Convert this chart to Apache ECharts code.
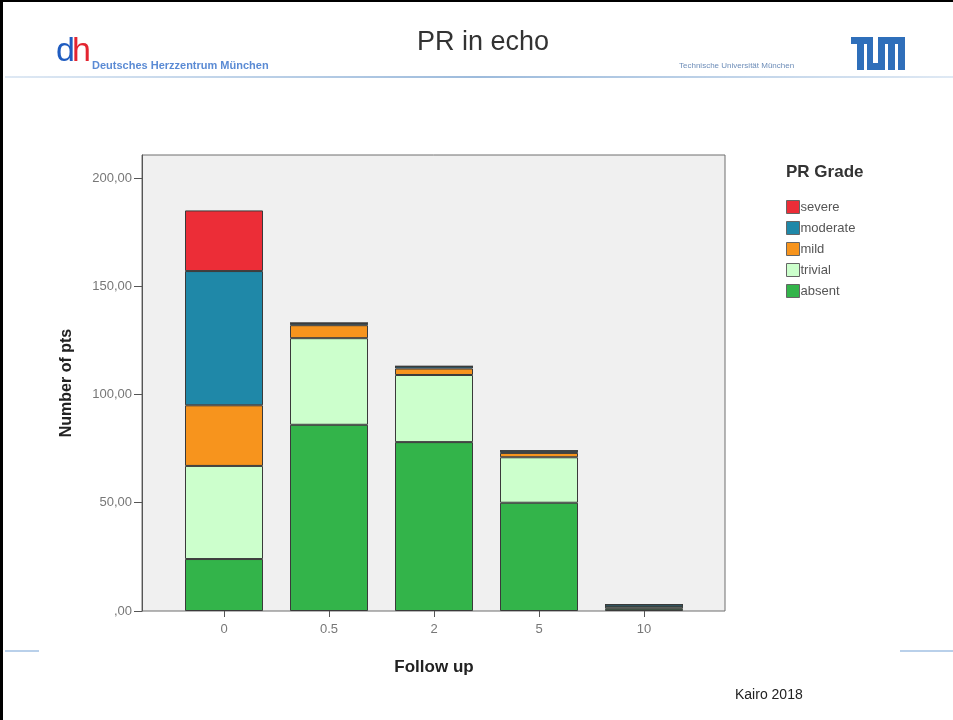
<!DOCTYPE html>
<html>
<head>
<meta charset="utf-8">
<title>PR in echo</title>
<script src="https://cdn.jsdelivr.net/npm/echarts@6/dist/echarts.min.js"></script>
<style>
  html, body { margin: 0; padding: 0; background: #ffffff; }
  #chart { width: 953px; height: 720px; }
</style>
</head>
<body>
<div id="chart"></div>
<script>
// Follow-up time points (years)
const followUp = ['0', '0.5', '2', '5', '10'];

// Patients per PR grade at each follow-up, stacked bottom to top
const absent   = [24, 86, 78, 50, 1];
const trivial  = [43, 40, 31, 21, 1];
const mild     = [28, 6, 3, 2, 0];
const moderate = [62, 1, 1, 1, 1];
const severe   = [28, 0, 0, 0, 0];

const yTicks = [0, 50, 100, 150, 200];

const gradeColors = {
  severe: '#ec2d37',
  moderate: '#1f88a8',
  mild: '#f7941d',
  trivial: '#ccffcc',
  absent: '#33b44a'
};

const FONT = 'Liberation Sans, Arial, sans-serif';

function stackSeries(name, values) {
  return {
    name: name,
    type: 'bar',
    stack: 'total',
    xAxisIndex: 1,
    yAxisIndex: 1,
    barWidth: 78,
    data: values,
    itemStyle: { color: gradeColors[name], borderColor: '#3a3a3a', borderWidth: 1 },
    emphasis: { disabled: true }
  };
}

const chart = echarts.init(document.getElementById('chart'), null, { renderer: 'canvas' });

chart.setOption({
  animation: false,
  backgroundColor: '#ffffff',
  title: {
    text: 'PR in echo',
    left: 412,
    top: 24,
    textStyle: { fontFamily: FONT, fontSize: 27, fontWeight: 'normal', color: '#333333' }
  },
  legend: {
    data: ['severe', 'moderate', 'mild', 'trivial', 'absent'],
    orient: 'vertical',
    left: 786,
    top: 200,
    padding: 0,
    itemWidth: 13,
    itemHeight: 13,
    itemGap: 7,
    icon: 'rect',
    selectedMode: false,
    itemStyle: { borderColor: '#666666', borderWidth: 1 },
    textStyle: { fontFamily: FONT, fontSize: 13, color: '#555555', padding: [0, 0, 0, -4] }
  },
  grid: [
    {
      // plot frame with grey panel
      left: 142, top: 155, width: 583, height: 456,
      show: true, backgroundColor: '#f0f0f0', borderColor: '#6e6e6e', borderWidth: 1
    },
    {
      left: 171.5, top: 155, width: 525, height: 456
    }
  ],
  xAxis: [
    { gridIndex: 0, type: 'value', show: false, min: 0, max: 1 },
    {
      gridIndex: 1,
      type: 'category',
      data: followUp,
      axisLine: { show: false },
      axisTick: { show: true, alignWithLabel: true, length: 6, lineStyle: { color: '#555555' } },
      axisLabel: { margin: 12, fontFamily: FONT, fontSize: 13, color: '#777777' },
      name: 'Follow up',
      nameLocation: 'middle',
      nameGap: 48,
      nameTextStyle: { fontFamily: FONT, fontSize: 17, fontWeight: 'bold', color: '#222222' }
    }
  ],
  yAxis: [
    { gridIndex: 0, type: 'value', show: false, min: 0, max: 1 },
    {
      gridIndex: 1,
      type: 'value',
      min: 0,
      max: 210.6,
      interval: 50,
      offset: 29.5,
      splitLine: { show: false },
      axisLine: { show: true, lineStyle: { color: '#555555' } },
      axisTick: { show: true, length: 8, lineStyle: { color: '#555555' } },
      axisLabel: {
        margin: 10,
        showMaxLabel: false,
        fontFamily: FONT, fontSize: 13, color: '#777777',
        formatter: function (v) {
          if (yTicks.indexOf(v) < 0) return '';
          return v === 0 ? ',00' : v + ',00';
        }
      },
      name: 'Number of pts',
      nameLocation: 'middle',
      nameGap: 67,
      nameTextStyle: { fontFamily: FONT, fontSize: 16, fontWeight: 'bold', color: '#222222' }
    }
  ],
  series: [
    stackSeries('absent', absent),
    stackSeries('trivial', trivial),
    stackSeries('mild', mild),
    stackSeries('moderate', moderate),
    stackSeries('severe', severe)
  ],
  graphic: [
    // slide frame
    { type: 'rect', shape: { x: 0, y: 0, width: 953, height: 2 }, style: { fill: '#000000' } },
    { type: 'rect', shape: { x: 0, y: 0, width: 3, height: 720 }, style: { fill: '#000000' } },
    // header rule
    {
      type: 'rect', shape: { x: 5, y: 76, width: 948, height: 2 },
      style: {
        fill: new echarts.graphic.LinearGradient(0, 0, 1, 0, [
          { offset: 0, color: '#dfe9f4' }, { offset: 0.5, color: '#9dbbdc' }, { offset: 1, color: '#dfe9f4' }
        ])
      }
    },
    // footer rules
    { type: 'rect', shape: { x: 5, y: 650, width: 34, height: 2 }, style: { fill: '#b9d0ea' } },
    { type: 'rect', shape: { x: 900, y: 650, width: 53, height: 2 }, style: { fill: '#b9d0ea' } },
    // left logo
    { type: 'text', x: 56, y: 35, style: { text: 'd', fontFamily: FONT, fontSize: 34, fill: '#1f5cc0' } },
    { type: 'text', x: 72, y: 35, style: { text: 'h', fontFamily: FONT, fontSize: 34, fill: '#e32430' } },
    {
      type: 'text', x: 92, y: 60,
      style: { text: 'Deutsches Herzzentrum München', fontFamily: FONT, fontSize: 11, fontWeight: 'bold', fill: '#5b8bd4' }
    },
    // right logo
    {
      type: 'text', x: 679, y: 62,
      style: { text: 'Technische Universität München', fontFamily: FONT, fontSize: 8, fill: '#6d8db8' }
    },
    { type: 'rect', shape: { x: 851, y: 37, width: 21, height: 7 }, style: { fill: '#2f6fba' } },
    { type: 'rect', shape: { x: 857, y: 37, width: 7, height: 33 }, style: { fill: '#2f6fba' } },
    { type: 'rect', shape: { x: 867, y: 37, width: 6, height: 33 }, style: { fill: '#2f6fba' } },
    { type: 'rect', shape: { x: 867, y: 63, width: 18, height: 7 }, style: { fill: '#2f6fba' } },
    { type: 'rect', shape: { x: 878, y: 37, width: 7, height: 33 }, style: { fill: '#2f6fba' } },
    { type: 'rect', shape: { x: 878, y: 37, width: 27, height: 7 }, style: { fill: '#2f6fba' } },
    { type: 'rect', shape: { x: 888, y: 37, width: 7, height: 33 }, style: { fill: '#2f6fba' } },
    { type: 'rect', shape: { x: 898, y: 37, width: 7, height: 33 }, style: { fill: '#2f6fba' } },
    // legend heading
    {
      type: 'text', x: 786, y: 164,
      style: { text: 'PR Grade', fontFamily: FONT, fontSize: 17, fontWeight: 'bold', fill: '#333333' }
    },
    // footer note
    {
      type: 'text', x: 735, y: 688,
      style: { text: 'Kairo 2018', fontFamily: FONT, fontSize: 14, fill: '#222222' }
    }
  ]
});
</script>
</body>
</html>
